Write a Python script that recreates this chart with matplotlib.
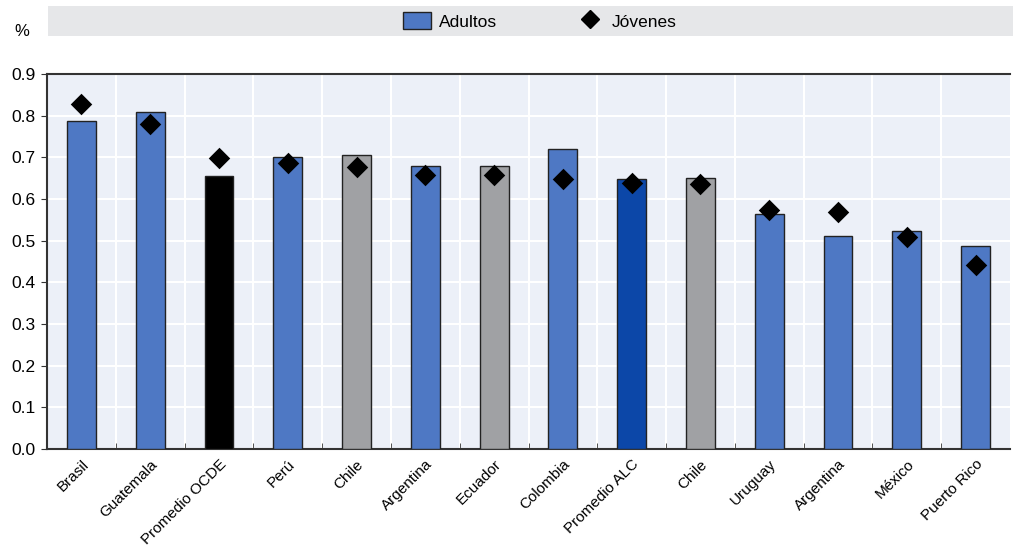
import matplotlib
matplotlib.use("Agg")
import matplotlib.pyplot as plt
from matplotlib.patches import Rectangle
from matplotlib.lines import Line2D
from matplotlib import font_manager

names = {f.name for f in font_manager.fontManager.ttflist}
fam = ["Liberation Sans Narrow", "DejaVu Sans"] if "Liberation Sans Narrow" in names else ["Liberation Sans", "DejaVu Sans"]
plt.rcParams['font.family'] = fam

categories = ["Brasil", "Guatemala", "Promedio OCDE", "Perú", "Chile", "Argentina",
              "Ecuador", "Colombia", "Promedio ALC", "Chile", "Uruguay", "Argentina",
              "México", "Puerto Rico"]
adultos = [0.787, 0.809, 0.655, 0.70, 0.706, 0.678, 0.678, 0.721, 0.648, 0.651,
           0.564, 0.511, 0.524, 0.487]
jovenes = [0.828, 0.78, 0.699, 0.686, 0.677, 0.658, 0.658, 0.648, 0.638, 0.636,
           0.574, 0.569, 0.509, 0.442]
bar_colors = ["#4E78C4", "#4E78C4", "#000000", "#4E78C4", "#A0A1A4", "#4E78C4",
              "#A0A1A4", "#4E78C4", "#0C47A8", "#A0A1A4", "#4E78C4", "#4E78C4",
              "#4E78C4", "#4E78C4"]
yticks = [0.0, 0.1, 0.2, 0.3, 0.4, 0.5, 0.6, 0.7, 0.8, 0.9]

fig = plt.figure(figsize=(10.13, 5.49), dpi=100)
ax = fig.add_axes([47/1013, 1-449/549, (1010-47)/1013, (449-74)/549])
ax.set_facecolor("#ECF0F8")

x = list(range(len(categories)))
ax.bar(x, adultos, width=0.42, color=bar_colors, edgecolor="#222222", linewidth=1.0, zorder=3)
ax.scatter(x, jovenes, marker="D", s=120, color="black", zorder=4, linewidths=0)

ax.set_xlim(-0.5, len(categories) - 0.5)
ax.set_ylim(0, 0.9)
ax.set_yticks(yticks)
ax.set_yticklabels([f"{v:.1f}" for v in yticks], fontsize=12.5)
ax.set_xticks(x)
ax.set_xticklabels(categories, rotation=45, ha="right", va="top", rotation_mode="anchor", fontsize=11)
ax.tick_params(axis="x", length=0, pad=6)
ax.set_xticks([i + 0.5 for i in x[:-1]], minor=True)
ax.tick_params(axis="x", which="minor", direction="in", length=4, color="#333333")
ax.tick_params(axis="y", length=4, direction="out", color="#333333", pad=4)

ax.grid(True, axis="y", color="white", linewidth=1.5, zorder=0)
ax.grid(True, axis="x", which="minor", color="white", linewidth=1.5, zorder=0)
ax.set_axisbelow(True)

for s in ["left", "bottom", "top"]:
    ax.spines[s].set_color("#333333")
    ax.spines[s].set_linewidth(1.5)
ax.spines["right"].set_visible(False)

fig.patches.append(Rectangle((48/1013, 1-36/549), (1013-48)/1013, 30/549,
                             transform=fig.transFigure, facecolor="#E6E7E9", edgecolor="none", zorder=0))
fig.text(22/1013, 1-31/549, "%", fontsize=12, ha="center", va="center")

handles = [Rectangle((0, 0), 1, 1, facecolor="#4E78C4", edgecolor="#222222", linewidth=1.0),
           Line2D([], [], marker="D", color="black", linestyle="none", markersize=9)]
fig.legend(handles, ["Adultos", "Jóvenes"], loc="center", bbox_to_anchor=(540/1013, 1-21/549),
           ncol=2, frameon=False, fontsize=12.5, handlelength=1.6, handleheight=1.1,
           columnspacing=4.5, handletextpad=0.5)

fig.savefig("out.png", dpi=100)
